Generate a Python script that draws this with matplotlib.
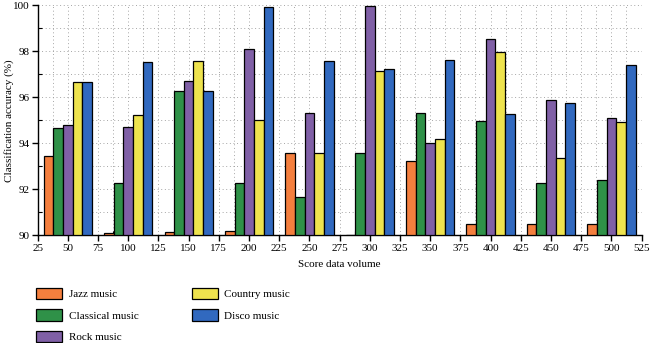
import numpy as np
import matplotlib
matplotlib.use("Agg")
import matplotlib.pyplot as plt
from matplotlib.ticker import MultipleLocator

# data
volumes = [50, 100, 150, 200, 250, 300, 350, 400, 450, 500]
series_names = ['Jazz music', 'Classical music', 'Rock music', 'Country music', 'Disco music']
jazz = [93.45, 90.12, 90.16, 90.2, 93.58, 90.03, 93.25, 90.47, 90.5, 90.5]
classical = [94.65, 92.27, 96.27, 92.27, 91.68, 93.6, 95.32, 94.98, 92.29, 92.4]
rock = [94.8, 94.7, 96.72, 98.12, 95.3, 99.97, 94.0, 98.53, 95.87, 95.1]
country = [96.65, 95.25, 97.57, 95.0, 93.6, 97.15, 94.2, 97.98, 93.36, 94.93]
disco = [96.65, 97.55, 96.3, 99.93, 97.57, 97.22, 97.62, 95.26, 95.74, 97.4]
colors = ['#F47F3E', '#2F9148', '#8060A6', '#EEE34E', '#3169BF']

plt.rcParams['font.family'] = ['Liberation Serif', 'DejaVu Serif']
plt.rcParams['font.size'] = 8

fig = plt.figure(figsize=(6.5, 3.43), dpi=100)
ax = fig.add_axes([0.058, 0.314, 0.929, 0.67])

x = np.array(volumes)
width = 8
all_series = [jazz, classical, rock, country, disco]
for i, vals in enumerate(all_series):
    offset = (i - 2) * width
    heights = np.array(vals) - 90
    ax.bar(x + offset, heights, width=width, bottom=90, color=colors[i],
           edgecolor='black', linewidth=0.9, label=series_names[i], zorder=3)

ax.set_xlim(25, 525)
ax.set_ylim(90, 100)
ax.xaxis.set_major_locator(MultipleLocator(25))
ax.xaxis.set_minor_locator(MultipleLocator(12.5))
ax.yaxis.set_major_locator(MultipleLocator(2))
ax.yaxis.set_minor_locator(MultipleLocator(1))

ax.grid(True, which='both', linestyle=(0, (1, 3)), color='#999999', linewidth=0.65)
ax.set_axisbelow(True)

for s in ['top', 'right']:
    ax.spines[s].set_visible(False)
for s in ['left', 'bottom']:
    ax.spines[s].set_linewidth(1.0)

ax.tick_params(which='major', direction='out', length=4, width=1.0, labelsize=8, pad=2)
ax.tick_params(which='minor', direction='in', length=3, width=0.8)

ax.set_xlabel('Score data volume', fontsize=8, labelpad=5)
ax.set_ylabel('Classification accuracy (%)', fontsize=8)
ax.yaxis.set_label_coords(-0.040, 0.5)

fig.legend(loc='upper left', bbox_to_anchor=(0.055, 0.16), ncol=2, frameon=False,
           fontsize=8, handlelength=2.4, handleheight=1.17, labelspacing=0.9,
           columnspacing=4.8, handletextpad=0.55, borderaxespad=0, borderpad=0)

fig.savefig('out.png', dpi=100)
